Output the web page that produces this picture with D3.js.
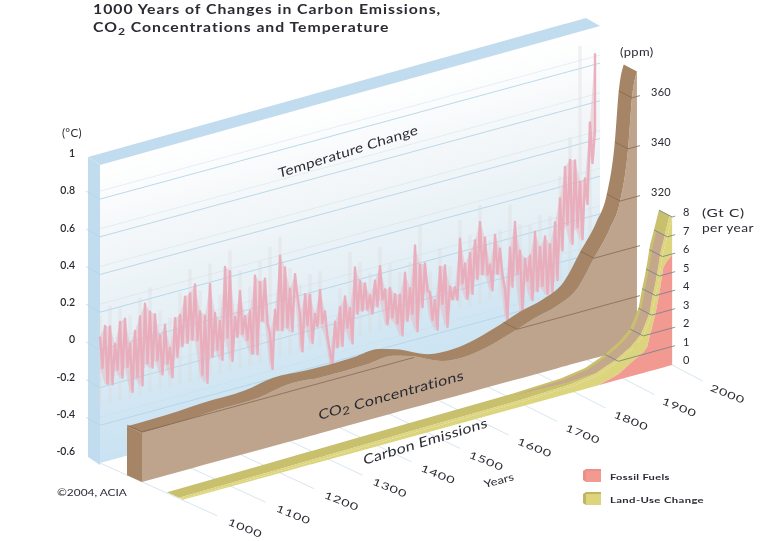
<!DOCTYPE html>
<html><head><meta charset="utf-8">
<script src="https://cdn.jsdelivr.net/npm/d3@7/dist/d3.min.js"></script>
<style>
html,body{margin:0;padding:0;background:#fff}
svg{display:block}
text{font-family:Lato,"Noto Sans",sans-serif;fill:#2b2a33}
</style></head><body>
<svg id="c" width="779" height="541"></svg>
<script>
// ---- data ----
const yearTicks=[1000,1100,1200,1300,1400,1500,1600,1700,1800,1900,2000];
const tempTicks=[1,0.8,0.6,0.4,0.2,0,-0.2,-0.4,-0.6];
const tempGrid=[0.8,0.6,0.4,0.2,0,-0.2,-0.4];
const co2Ticks=[280,300,320,340,360];
const co2Labels=[320,340,360];
const emTicks=[0,1,2,3,4,5,6,7,8];

const tempHigh=[.07,.12,.11,.01,.12,.13,-.01,.05,.12,.18,.13,.11,-.01,.04,-.09,.06,.07,.16,.17,.21,
.06,.03,.19,.03,-.02,.26,.23,-.02,.11,-.03,-.01,.17,.13,.14,-.16,-.04,.24,.17,.05,.12,
-.10,0,-.01,-.12,0,-.12,-.34,-.19,-.12,-.07,-.14,.07,-.01,-.03,-.10,-.03,.04,-.09,-.09,-.13,
-.14,-.03,-.12,.10,-.01,-.01,-.17,-.22,-.05,-.05,-.17,-.18,.07,-.07,-.02,.04,.13,.04,-.11,.04,
-.04,-.26,-.05,.08,-.08,-.13,-.12,0,-.09,-.04,-.09,.02,.14,.30,.33,.32,.20,.21,.50,.86];
const tempLow=[-.10,-.19,-.20,-.13,-.18,-.13,-.27,-.20,-.25,-.14,-.17,-.14,-.22,-.17,-.25,-.15,-.10,-.09,-.08,-.09,
-.28,-.33,-.20,-.17,-.23,-.12,-.25,-.13,-.12,-.16,-.24,-.25,-.08,-.10,-.35,-.15,-.16,-.15,-.18,0,
-.30,-.17,-.27,-.19,-.18,-.26,-.42,-.33,-.33,-.24,-.33,-.18,-.17,-.17,-.20,-.17,-.14,-.28,-.25,-.29,
-.36,-.29,-.26,-.36,-.24,-.16,-.32,-.38,-.25,-.38,-.24,-.25,-.17,-.26,-.24,-.17,-.15,-.16,-.25,-.17,
-.18,-.43,-.26,-.20,-.42,-.25,-.36,-.32,-.30,-.35,-.35,-.29,-.14,-.01,-.12,-.04,-.11,.07,.28,.45];
const greyHigh=[.18,.22,.20,.14,.22,.26,.12,.07,.19,.30,.17,.30,.12,.34,.22,.12,.24,.30,.34,.16,
.06,.10,.10,-.18,-.02,.16,.09,.02,.14,.04,-.02,.02,.20,-.06,.05,-.06,.17,.08,.22,.02,
.06,.18,.06,.04,.08,.06,.26,.45,.92,.50];
const greyFloor=-0.3;

const co2Years=[1000,1103,1152,1238,1293,1360,1455,1507,1541,1606,1657,1750,1790,1838,1879,1913,1945,1966,1982,1990,2000];
const co2Values=[279.6,280,280.6,281,283,282.3,282.4,283,281,275.5,274.8,279.4,282.4,285,289.6,300,310,320,340,360,370];

const emYears=[1000,1200,1400,1500,1600,1700,1800,1850,1890,1920,1941,1949,1959,1965,1971,1976,1982,1990,2000];
const fossilFuels=[0,0,0,0,0,0,0,0,.3,.8,1.1,1.35,2.35,2.9,3.7,4.4,5.4,5.7,5.95];
const landUse=[.05,.1,.17,.2,.22,.25,.35,.55,.7,.7,.9,1.1,.7,1.0,.9,.9,.85,1.3,2.05];

// ---- projection scales ----
const xYear=d3.scaleLinear([1000,2000],[100,600]);
const yBase=d3.scaleLinear([1000,2000],[463,327]);
const dX=d3.scaleLinear([1000,2000],[1,.88]);
const dY=d3.scaleLinear([1000,2000],[.45,.463]);
const hTemp=d3.scaleLinear([-.6,1],[0,301.6]);
const hCo2=d3.scaleLinear([260,370],[0,275]);
const hEm=d3.scaleLinear([0,8],[0,148]);
const px=(yr,d)=>xYear(yr)+d*dX(yr);
const py=(yr,d,h)=>yBase(yr)+d*dY(yr)-h;

const svg=d3.select('#c');
const defs=svg.append('defs');
const grad=defs.append('linearGradient').attr('id','plane').attr('gradientUnits','userSpaceOnUse')
 .attr('x1',100).attr('y1',164).attr('x2',176).attr('y2',444);
[[0,'#ffffff'],[.3,'#f2f6f8'],[.6,'#e4eff5'],[.8,'#d3e7f3'],[1,'#c9e2f2']].forEach(s=>grad.append('stop').attr('offset',s[0]).attr('stop-color',s[1]));
defs.append('filter').attr('id','soft').append('feGaussianBlur').attr('stdDeviation',.45);
const root=svg.append('g').attr('filter','url(#soft)');
const poly=(pts,fill,op)=>root.append('polygon').attr('points',pts.map(p=>p.join(',')).join(' ')).attr('fill',fill).attr('opacity',op==null?1:op);

// back plane and frame
poly([[px(1000,0),py(1000,0,hTemp(1.0))],[px(2000,0),py(2000,0,hTemp(1.0))],[px(2000,0),py(2000,0,0)],[px(1000,0),py(1000,0,0)]],'url(#plane)');
poly([[88,157],[586,18],[600,26],[100,165]],'#c2dcef');
poly([[88,157],[100,165],[100,465],[88,457]],'#c2dcef');

// temperature grid
tempGrid.forEach(v=>{
 const h=hTemp(v);
 root.append('line').attr('x1',px(1000,0)).attr('y1',py(1000,0,h+8)).attr('x2',px(2000,0)).attr('y2',py(2000,0,h+8)).attr('stroke','#c8dde9').attr('stroke-width',.7).attr('opacity',.6);
 root.append('line').attr('x1',px(1000,0)).attr('y1',py(1000,0,h)).attr('x2',px(2000,0)).attr('y2',py(2000,0,h)).attr('stroke','#b3d5ea').attr('stroke-width',.9);
 root.append('line').attr('x1',86).attr('y1',py(1000,0,h+8)).attr('x2',px(1000,0)).attr('y2',py(1000,0,h)).attr('stroke','#b5d2e6').attr('stroke-width',.7);
});

// grey uncertainty
const greyYears=greyHigh.map((_,i)=>1000+i*20);
root.append('g').selectAll('line').data(greyHigh).join('line')
 .attr('x1',(d,i)=>px(greyYears[i],0)).attr('x2',(d,i)=>px(greyYears[i],0))
 .attr('y1',(d,i)=>py(greyYears[i],0,hTemp(d))).attr('y2',(d,i)=>py(greyYears[i],0,hTemp(greyFloor)))
 .attr('stroke','#dcd9da').attr('stroke-width',3.5).attr('opacity',.32);

// pink temperature trace
const tempYears=tempHigh.map((_,i)=>1000+i*10);
root.append('path').attr('d',d3.area().x((d,i)=>px(tempYears[i],0))
  .y0((d,i)=>py(tempYears[i],0,hTemp(tempLow[i]))).y1((d,i)=>py(tempYears[i],0,hTemp(d)))(tempHigh))
 .attr('fill','#e9aebb').attr('opacity',.42);
const trace=[];
tempHigh.forEach((v,i)=>{const yr=tempYears[i];
 if(i===tempHigh.length-1){trace.push([yr,tempLow[i]]);trace.push([yr,v]);}
 else{trace.push([yr,v]);trace.push([yr+5,tempLow[i]]);}});
root.append('path').attr('d',d3.line().x(d=>px(d[0],0)).y(d=>py(d[0],0,hTemp(d[1])))(trace))
 .attr('fill','none').attr('stroke','#e9aaba').attr('stroke-width',2.4).attr('stroke-linejoin','round').attr('opacity',.92);

// floor lines
yearTicks.forEach(y=>root.append('line').attr('x1',px(y,0)).attr('y1',py(y,0,0)).attr('x2',px(y,117)).attr('y2',py(y,117,0)).attr('stroke','#d3e3ee').attr('stroke-width',.9));

const ribbon=(yrs,h0,d0,h1,d1,curve)=>d3.area().curve(curve||d3.curveLinear)
 .x0((y,i)=>px(y,d0)).y0((y,i)=>py(y,d0,h0(i)))
 .x1((y,i)=>px(y,d1)).y1((y,i)=>py(y,d1,h1(i)))(yrs);

// CO2 wall
const CB=27,CF=42;
const co2H=i=>hCo2(co2Values[i]);
root.append('path').attr('d',ribbon(co2Years,()=>0,CF,co2H,CF,d3.curveMonotoneX)).attr('fill','#bea48d');
root.append('path').attr('d',ribbon(co2Years,co2H,CB,co2H,CF,d3.curveMonotoneX)).attr('fill','#a58565');
poly([[px(1000,CB),py(1000,CB,0)],[px(1000,CF),py(1000,CF,0)],[px(1000,CF),py(1000,CF,co2H(0))],[px(1000,CB),py(1000,CB,co2H(0))]],'#a58565');

function crossing(years,vals,v){
 for(let i=vals.length-1;i>0;i--){
  if(vals[i-1]<=v&&vals[i]>=v) return d3.scaleLinear([vals[i-1],vals[i]],[years[i-1],years[i]])(v);
 }
 return years[0];
}
function tickLine(yr,h,d0,d1,stroke,ext){
 root.append('path').attr('fill','none').attr('stroke',stroke).attr('stroke-width',.8)
 .attr('d',d3.line()([[px(yr,d0),py(yr,d0,h)],[px(yr,d1),py(yr,d1,h)],[px(2000,d1)+ext,py(2000,d1,h)-ext*.272]]));
}
co2Ticks.forEach(v=>tickLine(crossing(co2Years,co2Values,v),hCo2(v),CB,CF,'#86684f',3));
root.append('path').attr('fill','none').attr('stroke','#86684f').attr('stroke-width',.8)
 .attr('d',d3.line()([[px(1000,CB),py(1000,CB,hCo2(280))],[px(1000,CF),py(1000,CF,hCo2(280))],[px(1550,CF),py(1550,CF,hCo2(280))]]));

// emissions
const EB=67,EM=79,EF=82;
const emTotal=emYears.map((_,i)=>fossilFuels[i]+landUse[i]);
const total=i=>hEm(emTotal[i]);
const foss=i=>hEm(fossilFuels[i]);
root.append('path').attr('d',ribbon(emYears,total,EB,total,EM)).attr('fill','#c8c06c');
root.append('path').attr('d',ribbon(emYears,total,EM,total,EF)).attr('fill','#dcd57e');
// tan band inside the top face, where fossil burning takes over
const tanIdx=emYears.map((y,i)=>i).filter(i=>emYears[i]>=1700&&emYears[i]<=1990);
const tanW=d3.scaleLinear([1700,1880],[0,9]).clamp(true);
root.append('path').attr('fill','#c5a78c').attr('d',d3.area()
 .x0(i=>px(emYears[i],70)).y0(i=>py(emYears[i],70,total(i)))
 .x1(i=>px(emYears[i],70+tanW(emYears[i]))).y1(i=>py(emYears[i],70+tanW(emYears[i]),total(i)))(tanIdx));
root.append('path').attr('d',ribbon(emYears,foss,EF,total,EF)).attr('fill','#dcd57e');
root.append('path').attr('d',ribbon(emYears,()=>0,EF,foss,EF)).attr('fill','#f29a92');
emTicks.slice(1).forEach(v=>tickLine(crossing(emYears,emTotal,v),hEm(v),EB,EF,'#6f7f88',3));

// text
const txt=(s,x,y,size,opt={})=>{const t=root.append('text').attr('font-size',size).text(s);
 if(opt.sx) t.attr('transform',`translate(${x},${y}) scale(${opt.sx},1)`);
 else t.attr('x',x).attr('y',y);
 if(opt.anchor)t.attr('text-anchor',opt.anchor);
 if(opt.weight)t.attr('font-weight',opt.weight);
 if(opt.ls)t.attr('letter-spacing',opt.ls);
 if(opt.tf)t.attr('transform',opt.tf);
 return t;};
txt('1000 Years of Changes in Carbon Emissions,',93,14,13,{weight:700,ls:.8,sx:1.215});
const t2=txt('CO',93,32,13,{weight:700,ls:.8,sx:1.215});
t2.append('tspan').attr('dy',3).attr('font-size',10).text('2');
t2.append('tspan').attr('dy',-3).text(' Concentrations and Temperature');

const yLabel=d3.scaleLinear([1,-.6],[157,455]);
txt('(°C)',62,137,11.5,{ls:.3});
tempTicks.forEach(v=>txt(v<0?'-'+Math.abs(v):String(v),75,yLabel(v),10.5,{anchor:'end',weight:600}));

const yCo2Label=d3.scaleLinear([320,360],[195.5,96]);
txt('(ppm)',620,56,11,{ls:.3,sx:1.18});
co2Labels.forEach(v=>txt(v,651,yCo2Label(v),11,{ls:.3}));
const yEmLabel=d3.scaleLinear([0,8],[364,216]);
emTicks.forEach(v=>txt(v,683,yEmLabel(v),11));
txt('(Gt C)',702,217,11,{ls:.5,sx:1.4});
txt('per year',702,232,11,{ls:.3,sx:1.25});

yearTicks.forEach(y=>{
 const x=px(y,145),yy=py(y,145,0);
 root.append('text').attr('text-anchor','middle').attr('font-size',12).attr('letter-spacing',.6)
  .attr('transform',`translate(${x},${yy}) rotate(22) scale(1.2,.82) translate(0,4)`).text(y);
});

txt('Temperature Change',0,0,13,{ls:.2,tf:'translate(279,178) rotate(-17.5) skewX(-8) scale(1.2,1)'});
const tc=txt('CO',0,0,13.5,{ls:.2,tf:'translate(319,420) rotate(-15.5) skewX(-10) scale(1.22,1)'});
tc.append('tspan').attr('dy',2).attr('font-size',11).text('2');
tc.append('tspan').attr('dy',-2).text(' Concentrations');
txt('Carbon Emissions',0,0,13.5,{ls:.2,tf:'translate(364,465) rotate(-17) skewX(-10) scale(1.2,1)'});
txt('Years',0,0,10.5,{tf:'translate(485,488) rotate(-15) scale(1.25,1)'});
txt('©2004, ACIA',57,496,9.5,{sx:1.25});

poly([[583,471],[586,469],[601,469],[601,482],[586,482],[583,480]],'#ec8f8b');
poly([[586,471],[601,471],[601,482],[586,482]],'#f29a92');
poly([[583,494],[586,492],[601,492],[601,505],[586,505],[583,503]],'#bdb65f');
poly([[586,494],[601,494],[601,505],[586,505]],'#dcd57e');
txt('Fossil Fuels',610,480,8,{weight:700,ls:.25,sx:1.38});
txt('Land-Use Change',610,503,8,{weight:700,ls:.25,sx:1.42});
</script></body></html>
